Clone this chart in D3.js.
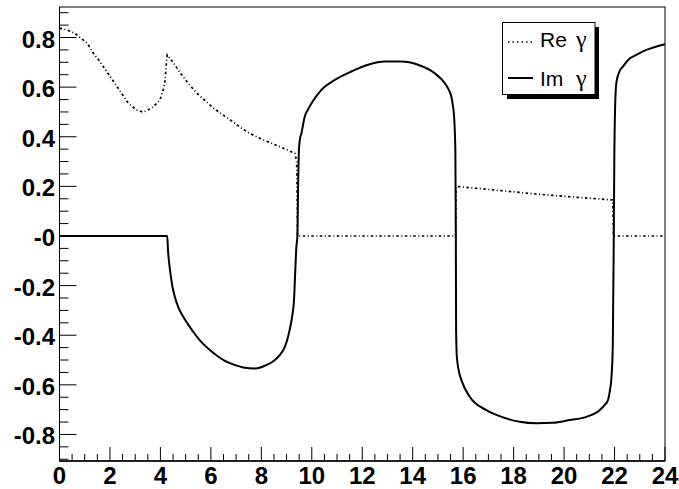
<!DOCTYPE html>
<html>
<head>
<meta charset="utf-8">
<script src="https://cdn.jsdelivr.net/npm/d3@7"></script>
<style>
  body { margin: 0; background: #fff; }
  text { font-family: "Liberation Sans", Arial, sans-serif; }
</style>
</head>
<body>
<svg width="679" height="489"></svg>
<script>
// values
var reX = [0, 0.28, 0.61, 0.81, 1.10, 1.34, 1.60, 1.87, 2.13, 2.46, 2.73, 3.06, 3.32, 3.65, 3.98, 4.11, 4.18, 4.24, 4.27,
  4.50, 4.79, 5.10, 5.45, 5.80, 6.10, 6.45, 6.77, 7.10, 7.43, 7.75, 8.09, 8.40, 8.73, 9.05, 9.33, 9.40, 9.42, 9.43,
  15.70, 15.72, 15.86, 16.39, 16.65, 17.5, 18.5, 19.5, 20.5, 21.3, 21.93, 21.96, 24];
var reY = [0.838, 0.831, 0.817, 0.800, 0.777, 0.737, 0.703, 0.663, 0.625, 0.575, 0.535, 0.508, 0.499, 0.515, 0.548, 0.589, 0.625, 0.700, 0.730,
  0.700, 0.657, 0.615, 0.575, 0.543, 0.516, 0.490, 0.468, 0.443, 0.420, 0.403, 0.387, 0.374, 0.360, 0.346, 0.333, 0.300, 0.150, 0,
  0, 0.199, 0.199, 0.193, 0.191, 0.183, 0.173, 0.164, 0.156, 0.150, 0.145, 0, 0];

var imX = [0, 4.27, 4.30, 4.38, 4.47, 4.57, 4.72, 4.90, 5.30, 5.60, 5.96, 6.30, 6.62, 6.95, 7.28, 7.74, 8.21, 8.50, 8.73, 8.92,
  9.06, 9.16, 9.24, 9.30, 9.33, 9.39, 9.43, 9.46, 9.49, 9.53, 9.59, 9.72, 9.85, 9.99, 10.38, 10.91, 11.57, 12.23, 12.89,
  13.55, 14.21, 14.87, 15.27, 15.45, 15.53, 15.60, 15.64, 15.69, 15.71, 15.72, 15.75, 15.83, 15.93, 16.26, 16.92, 17.58,
  18.24, 18.90, 19.56, 20.22, 20.88, 21.41, 21.62, 21.74, 21.82, 21.87, 21.93, 21.97, 21.99, 22.02, 22.07, 22.18, 22.33,
  22.60, 22.86, 23.26, 23.60, 24];
var imY = [0, 0, -0.056, -0.137, -0.200, -0.245, -0.290, -0.325, -0.386, -0.425, -0.460, -0.487, -0.507, -0.520, -0.530, -0.534, -0.520, -0.503, -0.480, -0.450,
  -0.406, -0.360, -0.312, -0.250, -0.177, -0.043, 0, 0.212, 0.347, 0.390, 0.414, 0.481, 0.510, 0.535, 0.589, 0.629, 0.663, 0.690, 0.703,
  0.703, 0.690, 0.656, 0.616, 0.585, 0.562, 0.520, 0.481, 0.347, 0, -0.379, -0.487, -0.545, -0.581, -0.648, -0.702, -0.731,
  -0.749, -0.755, -0.753, -0.742, -0.729, -0.702, -0.680, -0.661, -0.620, -0.581, -0.446, 0, 0.300, 0.508, 0.616, 0.660, 0.683,
  0.715, 0.730, 0.750, 0.762, 0.773];

var xTicks = [0, 2, 4, 6, 8, 10, 12, 14, 16, 18, 20, 22, 24];
var yTicks = [0.8, 0.6, 0.4, 0.2, 0, -0.2, -0.4, -0.6, -0.8];
var yTickLabels = ["0.8", "0.6", "0.4", "0.2", "-0", "-0.2", "-0.4", "-0.6", "-0.8"];
var legendLabels = ["Re \u03b3", "Im \u03b3"];

// frame edges (window.top is read-only, so no plain "top")
var padL = 59.5, padR = 665, padT = 7, padB = 461;

var svg = d3.select('svg');
svg.append('rect').attr('width', 679).attr('height', 489).attr('fill', '#fff');

var x = d3.scaleLinear().domain([0, 24]).range([padL, padR]);
var y = d3.scaleLinear().domain([-0.907, 0.923]).range([padB, padT]);

// frame
svg.append('rect')
  .attr('x', padL).attr('y', padT)
  .attr('width', padR - padL).attr('height', padB - padT)
  .attr('fill', 'none').attr('stroke', '#000').attr('stroke-width', 1);

// x axis: major ticks every 2, minor every 0.5
var xMinor = d3.range(0, 24.01, 0.5);
svg.append('g').selectAll('line')
  .data(xMinor)
  .enter().append('line')
  .attr('x1', function(d){return x(d)})
  .attr('x2', function(d){return x(d)})
  .attr('y1', padB)
  .attr('y2', function(d){return d % 2 === 0 ? padB - 14 : padB - 7})
  .attr('stroke', '#000').attr('stroke-width', 1);

svg.append('line')
  .attr('x1', padL).attr('x2', padR)
  .attr('y1', padB).attr('y2', padB)
  .attr('stroke', '#000').attr('stroke-width', 1.6);

svg.append('g').selectAll('text')
  .data(xTicks)
  .enter().append('text')
  .attr('x', function(d){return x(d)})
  .attr('y', 484)
  .attr('text-anchor', 'middle')
  .style('font-size', '24px').style('font-weight', 'bold')
  .text(function(d){return d});

// y axis: major every 0.2, minor every 0.05
var yMinor = d3.range(-0.9, 0.901, 0.05).map(function(d){return Math.round(d * 100) / 100});
svg.append('g').selectAll('line')
  .data(yMinor)
  .enter().append('line')
  .attr('x1', padL)
  .attr('x2', function(d){return Math.round(d * 100) % 20 === 0 ? padL + 17 : padL + 9})
  .attr('y1', function(d){return y(d)})
  .attr('y2', function(d){return y(d)})
  .attr('stroke', '#000').attr('stroke-width', 1);

svg.append('g').selectAll('text')
  .data(yTicks)
  .enter().append('text')
  .attr('x', 55)
  .attr('y', function(d){return y(d) + 10})
  .attr('text-anchor', 'end')
  .style('font-size', '24px').style('font-weight', 'bold')
  .text(function(d, i){return yTickLabels[i]});

// curves
var line = d3.line()
  .x(function(d){return x(d[0])})
  .y(function(d){return y(d[1])});
var smoothLine = d3.line()
  .x(function(d){return x(d[0])})
  .y(function(d){return y(d[1])})
  .curve(d3.curveMonotoneX);

var reData = reX.map(function(v, i){return [v, reY[i]]});
var imData = imX.map(function(v, i){return [v, imY[i]]});

svg.append('path')
  .attr('d', smoothLine(imData))
  .attr('fill', 'none').attr('stroke', '#000')
  .attr('stroke-width', 2).attr('stroke-linejoin', 'round');

svg.append('path')
  .attr('d', line(reData))
  .attr('fill', 'none').attr('stroke', '#000')
  .attr('stroke-width', 1.7)
  .attr('stroke-dasharray', '2.5,2.5,1,2.5');

// legend with shadow
var lg = svg.append('g');
lg.append('rect').attr('x', 507).attr('y', 27).attr('width', 92).attr('height', 72).attr('fill', '#000');
lg.append('rect').attr('x', 502.5).attr('y', 22.5).attr('width', 92.5).attr('height', 72)
  .attr('fill', '#fff').attr('stroke', '#000').attr('stroke-width', 1);

lg.append('line').attr('x1', 508).attr('x2', 533).attr('y1', 42).attr('y2', 42)
  .attr('stroke', '#000').attr('stroke-width', 1.6).attr('stroke-dasharray', '1.5,3');
lg.append('line').attr('x1', 508).attr('x2', 533).attr('y1', 78).attr('y2', 78)
  .attr('stroke', '#000').attr('stroke-width', 2);

var legText = lg.selectAll('text.leg')
  .data(legendLabels)
  .enter().append('text')
  .attr('class', 'leg')
  .attr('x', 540)
  .attr('y', function(d, i){return 47 + i * 39})
  .style('font-size', '21px');
legText.append('tspan')
  .text(function(d){return d.split(' ')[0]});
legText.append('tspan')
  .attr('x', 576)
  .style('font-family', '"Liberation Serif", serif')
  .style('font-size', '24px')
  .text(function(d){return d.split(' ')[1]});
</script>
</body>
</html>
